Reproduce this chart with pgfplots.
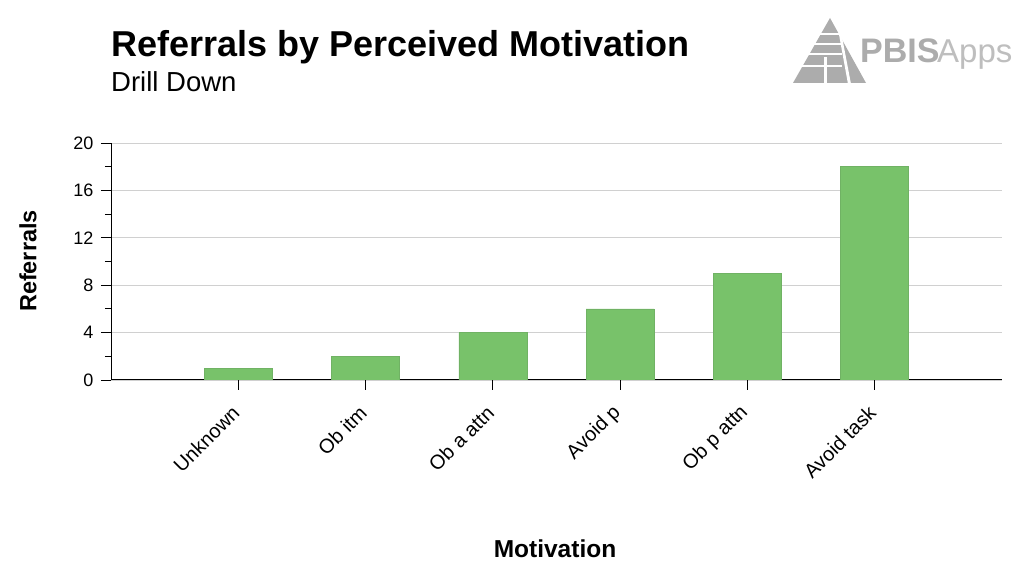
\documentclass[border=0pt]{standalone}
\usepackage{fontspec}
\setmainfont{Liberation Sans}
\usepackage{pgfplots}
\pgfplotsset{compat=1.18}

\definecolor{bargreen}{RGB}{120,194,106}
\definecolor{baredge}{RGB}{112,178,100}
\definecolor{gridgray}{RGB}{208,208,208}
\definecolor{logogray}{RGB}{172,172,172}
\definecolor{logolight}{RGB}{190,190,190}

\begin{document}
\begin{tikzpicture}[x=1pt,y=1pt]
\path[use as bounding box, fill=white] (0,0) rectangle (1031,564);

% heading
\node[anchor=base west, inner sep=0, font=\fontsize{36}{40}\selectfont\bfseries]
  at (111,507) {Referrals by Perceived Motivation};
\node[anchor=base west, inner sep=0, font=\fontsize{27.5}{30}\selectfont]
  at (111,472) {Drill Down};

% PBISApps logo
\fill[logogray] (793,481) -- (830,546) -- (866,481) -- cycle;
\foreach \yy in {529,519,509,497} {
  \fill[white] (790,\yy) rectangle (842,\yy+1.6);
}
\fill[white] (823.5,480) rectangle (826.5,507);
\fill[white] (838,535) -- (840.5,535) -- (851,480) -- (848,480) -- cycle;
\node[anchor=base west, inner sep=0, text=logogray, font=\fontsize{34}{36}\selectfont\bfseries]
  at (860,501) {PBIS};
\node[anchor=base west, inner sep=0, text=logolight, font=\fontsize{33}{36}\selectfont]
  at (937,501) {Apps};

% axis titles
\node[rotate=90, inner sep=0, font=\fontsize{23.5}{26}\selectfont\bfseries] at (28,303) {Referrals};
\node[anchor=base, inner sep=0, font=\fontsize{24.5}{26}\selectfont\bfseries] at (555,6) {Motivation};

\begin{axis}[
  at={(111pt,184pt)}, anchor=south west,
  scale only axis, width=891pt, height=237pt,
  xmin=-1, xmax=6, ymin=0, ymax=20,
  ybar, bar width=0.535,
  axis x line*=bottom, axis y line*=left,
  axis line style={black, line width=1pt},
  xtick={0,...,5},
  xticklabels={Unknown, Ob itm, Ob a attn, Avoid p, Ob p attn, Avoid task},
  ytick={0,4,...,20},
  minor ytick={2,6,...,18},
  tick align=outside,
  major tick length=10pt, minor tick length=6pt,
  tick style={black, line width=0.8pt},
  ymajorgrids, grid style={gridgray, line width=0.8pt},
  /pgf/number format/assume math mode=true,
  yticklabel style={font=\fontsize{18}{20}\selectfont, xshift=-4pt},
  xticklabel style={yshift=-17pt, font=\fontsize{20}{22}\selectfont,
    rotate=45, anchor=east},
]
\addplot[fill=bargreen, draw=baredge, line width=0.6pt]
  coordinates {(0,1) (1,2) (2,4) (3,6) (4,9) (5,18)};
\end{axis}
\end{tikzpicture}
\end{document}
